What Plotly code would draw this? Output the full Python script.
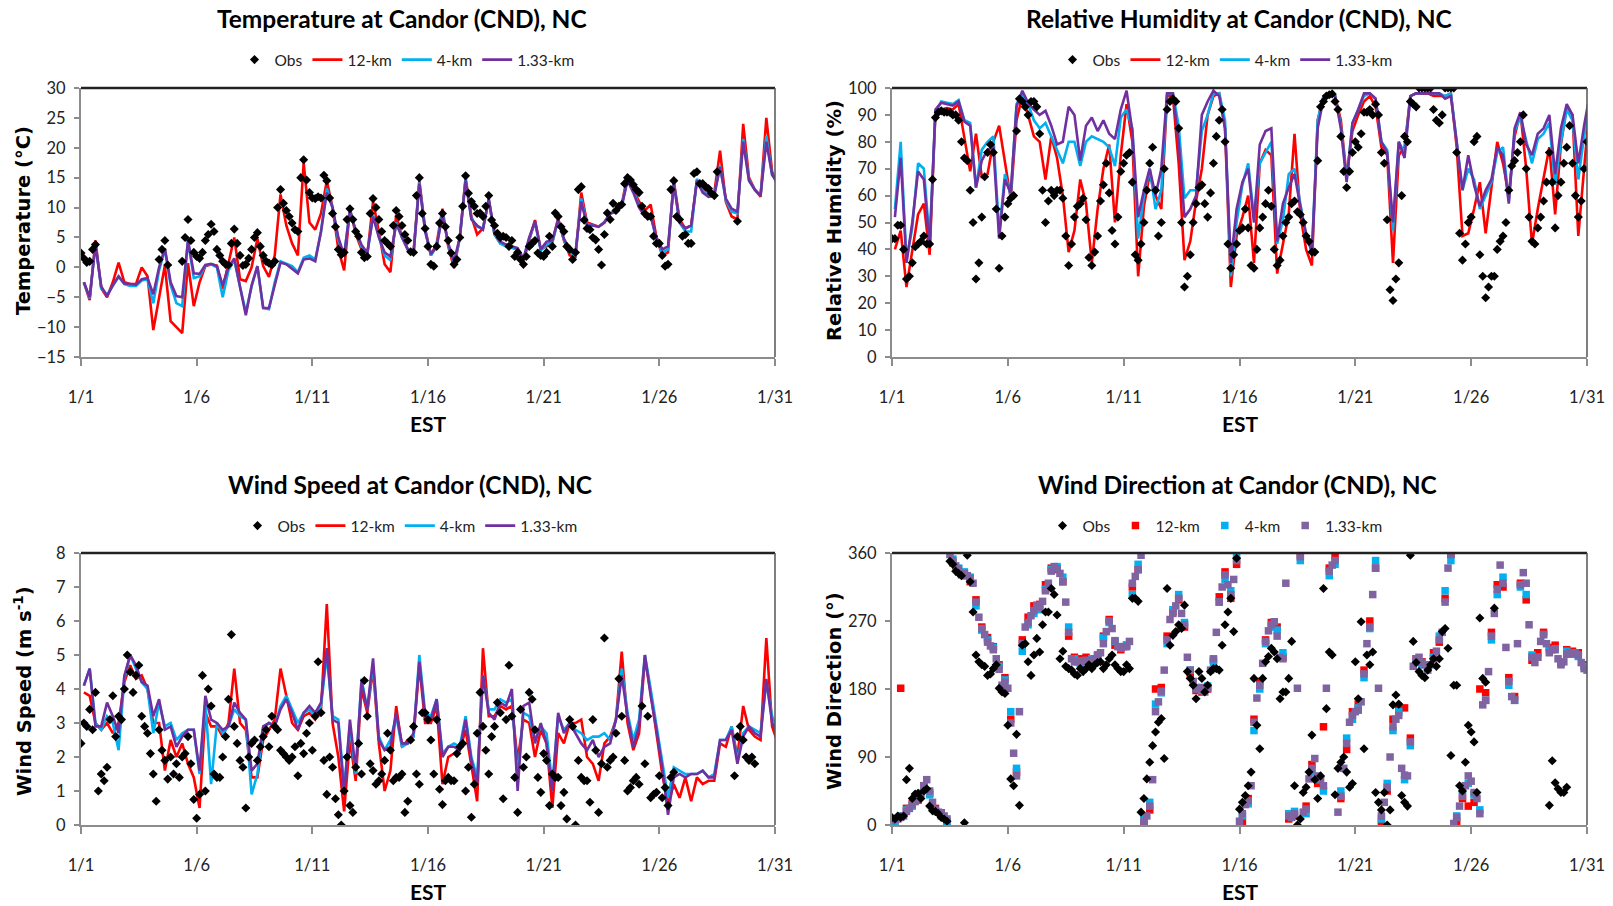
import plotly.graph_objects as go

W, H = 1613, 906

# ---------------------------------------------------------------------------
# Time axes (days after 1 Jan 00 EST)
# 6-hourly series sit at 03, 09, 15, 21 EST; 3-hourly series start at 00 EST
# ---------------------------------------------------------------------------
t6 = [0.125 + 0.25 * k for k in range(121)]
t3 = [0.125 * k for k in range(241)]

tick_days = [0, 5, 10, 15, 20, 25, 30]
tick_labels = ["1/1", "1/6", "1/11", "1/16", "1/21", "1/26", "1/31"]

# ---------------------------------------------------------------------------
# Temperature (deg C): models 6-hourly, obs 3-hourly
# ---------------------------------------------------------------------------
temp_12km = [
    -2.5, -5.5, 4.5, -3.5, -5.0, -2.5, 0.8, -2.5, -2.8, -2.8, 0.0, -1.5,
    -10.5, -5.0, 0.3, -9.0, -10.0, -11.0, 0.7, -6.5,
    -2.5, 0.2, 0.5, 0.3, -3.6, 0.5, 5.0, -2.0, -2.3, 0.0, 4.8, 0.2,
    -1.6, 2.0, 12.2, 7.0, 4.0, 2.0, 17.5, 7.5,
    6.3, 9.0, 14.5, 10.0, 3.0, -0.5, 9.8, 5.6, 3.0, 2.0, 11.0, 6.0,
    0.5, -0.8, 8.8, 5.0, 3.0, 2.5, 14.5, 6.5,
    2.0, 4.0, 9.8, 3.5, -0.1, 5.0, 15.0, 8.5, 5.5, 6.5, 11.2, 5.5,
    4.0, 3.8, 3.5, 2.8, 1.0, 4.5, 7.9, 3.0,
    3.5, 4.2, 8.2, 4.5, 2.0, 1.8, 12.5, 7.5, 7.2, 6.8, 7.5, 9.0,
    9.5, 10.5, 15.5, 13.0, 11.0, 9.5, 10.5, 5.0,
    2.0, 2.5, 14.5, 8.0, 6.5, 7.0, 14.5, 13.2, 12.5, 12.5, 19.5, 11.0,
    8.5, 8.0, 24.0, 15.0, 13.0, 11.8, 25.0, 16.0,
    13.5,
]
temp_4km = [
    -2.5, -5.2, 4.0, -3.5, -4.6, -3.0, -1.6, -2.8, -3.1, -3.1, -2.2, -2.0,
    -6.0, -0.5, 3.0, -3.0, -6.0, -6.5, 4.5, -1.8,
    -1.5, 0.3, 0.5, 0.0, -5.0, -0.5, 1.3, -3.3, -7.5, -3.2, 0.2, -6.8,
    -7.0, -2.5, 1.0, 0.6, 0.2, -0.8, 1.6, 2.0,
    1.3, 6.0, 13.2, 10.0, 4.5, 2.0, 9.7, 6.0, 3.5, 2.3, 8.7, 5.2,
    2.0, 1.2, 7.5, 5.0, 3.0, 2.3, 14.2, 6.3,
    2.0, 3.5, 9.2, 3.8, 0.5, 4.8, 14.7, 8.2, 6.8, 6.5, 11.3, 5.5,
    4.0, 3.5, 3.3, 3.0, 1.2, 4.8, 7.5, 2.8,
    3.8, 4.2, 7.8, 4.6, 2.5, 2.0, 11.5, 7.2, 7.0, 6.8, 7.6, 9.0,
    9.5, 10.4, 14.8, 12.8, 10.3, 8.8, 8.8, 4.5,
    2.5, 3.0, 14.2, 7.5, 6.0, 6.0, 14.8, 12.8, 12.0, 12.2, 17.0, 11.2,
    9.3, 9.0, 21.5, 14.7, 13.0, 12.0, 22.0, 15.5,
    14.0,
]
temp_133km = [
    -2.5, -5.0, 3.8, -3.2, -4.8, -3.0, -1.5, -2.7, -2.8, -2.9, -2.0, -1.8,
    -4.5, 0.0, 3.2, -2.5, -4.8, -5.0, 4.5, -1.0,
    -1.1, 0.4, 0.6, 0.2, -3.0, 0.0, 1.5, -3.0, -8.0, -3.0, 0.2, -6.8,
    -6.8, -3.0, 0.8, 0.5, -0.3, -1.0, 1.3, 1.5,
    1.0, 6.0, 12.5, 10.0, 5.0, 2.0, 9.5, 6.2, 3.8, 2.4, 8.5, 5.0,
    2.5, 1.8, 7.3, 5.0, 3.0, 2.3, 14.0, 6.0,
    2.2, 3.5, 8.8, 4.0, 1.0, 5.0, 14.5, 8.0, 7.0, 6.3, 11.5, 5.8,
    4.3, 3.8, 3.5, 3.2, 1.5, 5.0, 7.7, 3.0,
    4.3, 4.5, 8.0, 4.8, 3.0, 2.5, 11.0, 7.0, 7.0, 6.8, 7.5, 9.0,
    9.3, 10.2, 14.5, 12.5, 10.0, 8.5, 8.5, 5.0,
    3.0, 3.5, 14.0, 7.5, 6.5, 7.0, 14.5, 12.5, 11.8, 12.0, 16.8, 11.5,
    9.8, 9.3, 21.0, 14.5, 13.0, 12.0, 21.0, 15.5,
    14.0,
]
temp_obs = [
    2.4, 1.5, 0.8, 1.0, 3.0, 3.8, None, None,
    None, None, None, None, None, None, None, None,
    None, None, None, None, None, None, None, None,
    None, None, None, 1.3, 3.0, 4.5, 0.4, None,
    None, None, None, 1.0, 5.0, 8.0, 4.5, 2.5,
    1.8, 1.5, 2.5, 4.5, 5.5, 7.2, 6.0, 3.0,
    2.0, 1.0, 0.5, 0.4, 4.0, 6.4, 4.0, 2.0,
    0.3, 0.5, 1.5, 3.0, 5.0, 5.8, 3.5, 2.0,
    1.0, 0.7, 0.4, 1.0, 10.0, 13.0, 10.7, 9.5,
    8.5, 7.4, 6.3, 6.0, 15.0, 18.0, 14.6, 12.5,
    11.6, 11.5, 11.8, 11.6, 15.4, 14.5, 11.6, 9.0,
    6.8, 3.0, 2.1, 2.5, 8.0, 9.8, 8.0, 6.0,
    5.2, 2.5, 1.6, 1.8, 9.0, 11.5, 10.0, 8.0,
    6.0, 4.5, 4.0, 3.5, 7.0, 9.5, 8.5, 7.0,
    5.5, 4.5, 2.6, 2.5, 12.0, 15.0, 9.0, 6.5,
    3.5, 0.5, 0.2, 3.5, 7.4, 9.0, 6.8, 4.5,
    2.4, 0.5, 1.3, 5.0, 10.2, 15.3, 12.4, 11.0,
    10.2, 9.0, 9.1, 8.5, 10.2, 12.0, 7.9, 7.0,
    5.7, 5.0, 5.2, 5.0, 3.5, 4.5, 1.8, 2.5,
    1.3, 0.5, 1.8, 3.5, 4.0, 4.5, 2.4, 2.0,
    1.8, 2.5, 5.2, 3.5, 9.1, 8.5, 6.8, 6.0,
    3.5, 3.0, 1.3, 2.5, 13.0, 13.5, 7.9, 6.5,
    6.3, 5.0, 4.6, 3.0, 0.4, 5.5, 9.1, 8.0,
    10.7, 9.5, 10.2, 10.5, 14.0, 15.0, 14.6, 13.8,
    13.0, 12.5, 10.2, 9.0, 8.5, 8.5, 5.2, 4.0,
    4.0, 2.0, 0.2, 0.5, 13.0, 14.5, 8.5, 8.0,
    5.2, 5.5, 4.0, 4.0, 15.7, 16.0, 14.0, 14.0,
    13.5, 13.2, 12.4, 12.0, 16.0, None, None, None,
    None, None, None, 7.7, None, None, None, None,
    None, None, None, None, None, None, None, None,
    None,
]

# ---------------------------------------------------------------------------
# Relative humidity (%): models 6-hourly, obs 3-hourly
# ---------------------------------------------------------------------------
rh_12km = [
    40, 47, 26, 40, 53, 57, 38, 91, 92, 92.5, 92, 94, 81, 69, 83, 67, 68, 80, 86, 72,
    59, 88, 97, 90, 82, 80, 66, 82, 74, 60, 39, 47, 66, 57, 35, 55, 70, 79, 50, 75,
    94, 80, 30, 56, 68, 60, 55, 97, 97, 72, 36, 43, 58, 70, 90, 97, 98, 85, 26, 45,
    52, 60, 35, 72, 77, 75, 31, 42, 53, 83, 53, 40, 34, 88, 97, 98, 97, 88, 67, 84,
    90, 95, 97, 93, 78, 75, 35, 75, 78, 97, 98, 98, 98, 97, 97, 97, 98, 78, 45, 46,
    55, 65, 46, 63, 80, 72, 60, 82, 91, 70, 42, 55, 66, 78, 53, 79, 93, 90, 45, 70,
    95,
]
rh_4km = [
    55, 80, 36, 48, 72, 70, 43, 91, 95, 94.5, 94, 95.5, 88, 87, 63, 77, 80, 82, 46, 68,
    60, 94, 98, 94, 88, 85, 87, 82, 77, 72, 80, 80, 71, 80, 82, 81, 80, 78, 71, 89,
    92, 85, 44, 60, 70, 55, 62, 98, 98, 86, 59, 62, 62, 84, 90, 98, 98, 88, 30, 50,
    64, 72, 52, 72, 76, 80, 42, 51, 68, 70, 57, 45, 39, 88, 97, 98, 97.5, 86, 66, 87,
    92, 97, 98, 96, 80, 77, 47, 80, 76, 97, 98, 98, 98.5, 98, 98, 97, 98, 80, 62, 70,
    66, 55, 60, 65, 76, 78, 58, 84, 89, 80, 72, 81, 83, 87, 64, 80, 92, 88, 66, 82,
    95,
]
rh_133km = [
    52, 74, 35, 50, 69, 66, 41, 92, 94.5, 94, 93.5, 95, 87.5, 86, 63, 73, 77, 78, 44, 66,
    61, 93, 99, 94.5, 92, 90, 91.5, 86, 79, 80, 93, 90, 73, 86, 89, 84, 88, 83, 81, 92,
    99, 84, 52, 62, 70, 60, 70, 98, 98, 80, 52, 55, 60, 90, 95, 99, 97, 85, 35, 55,
    65, 70, 50, 79, 84, 85, 43, 57, 63, 68, 56, 46, 39, 85, 96, 98, 97, 85, 65, 87,
    92, 98, 98, 96, 80, 76, 50, 80, 74, 97, 98, 98, 98, 98, 98, 96, 97, 80, 62, 75,
    64, 56, 62, 66, 78, 75, 57, 85, 91, 79, 75, 83, 85, 90, 68, 85, 94, 90, 72, 86,
    98,
]
rh_obs = [
    44, 44, 49, 49, 40, 29, 30, 35,
    41, 42, 43, 45, 42, 42, 66, 89,
    91, 91.5, 91, 91, 91, 90, 90, 88,
    80, 74, 73, 62, 50, 29, 35, 52,
    67, 76, 79, 76, 55, 33, 45, 52,
    57, 59, 60, 84, 96, 95, 93, 90,
    95, 95, 93, 83, 62, 50, 58, 62,
    60, 62, 62, 59, 45, 34, 42, 52,
    56, 57, 59, 51, 37, 34, 39, 45,
    58, 64, 72, 61, 47, 42, 52, 69,
    72, 75, 76, 65, 38, 36, 42, 50,
    62, 72, 78, 62, 45, 50, 70, 92,
    95, 96, 95, 85, 50, 26, 30, 38,
    50, 57, 63, 64, 57, 52, 61, 72,
    82, 88, 92, 80, 42, 33, 38, 42,
    47, 48, 55, 48, 34, 33, 40, 48,
    52, 57, 62, 56, 40, 34, 36, 45,
    50, 52, 57, 58, 54, 53, 50, 45,
    43, 39, 39, 73, 93, 95, 97, 97.5,
    97.8, 95, 92, 82, 69, 63, 69, 76,
    80, 78, 83, 91, 91, 92, 90, 94,
    90, 76, 72, 51, 25, 21, 29, 35,
    60, 82, 80, 95, 94, 93, 100, 100,
    100, 100, 100, 92, 88, 87, 90, 100,
    100, 100, 100, 76, 46, 36, 42, 50,
    52, 80, 82, 38, 30, 22, 26, 30,
    30, 40, 43, 45, 50, 62, 71, 73,
    76, 80, 90, 70, 52, 43, 42, 48,
    52, 58, 65, 76, 65, 48, 60, 65,
    72, 78, 86, 72, 60, 52, 58, 70,
    80,
]

# ---------------------------------------------------------------------------
# Wind speed (m/s): models 6-hourly, obs 3-hourly
# ---------------------------------------------------------------------------
ws_12km = [
    3.9, 3.8, 3.0, 2.8, 3.0, 2.7, 3.0, 4.2, 4.7, 4.3, 4.4, 4.0, 3.0, 3.0, 1.6, 2.5,
    2.0, 2.4, 1.8, 1.4, 0.5, 3.3, 2.9, 2.9, 2.6, 3.0, 4.6, 3.0, 2.8, 1.4, 1.4, 2.5,
    2.8, 3.1, 4.6, 3.8, 3.0, 2.8, 3.2, 3.3, 3.1, 3.4, 6.5, 3.0, 2.0, 0.4, 2.5, 1.3,
    4.0, 3.3, 4.6, 2.4, 1.0, 1.6, 3.5, 2.3, 2.5, 2.6, 4.7, 3.0, 3.0, 3.5, 1.2, 2.0,
    2.1, 2.2, 2.8, 1.8, 0.7, 5.2, 3.2, 3.2, 3.5, 3.4, 3.5, 1.9, 3.1, 3.0, 2.0, 2.8,
    2.4, 0.5, 2.7, 2.4, 3.0, 3.0, 3.1, 2.0, 1.8, 1.3, 2.4, 2.6, 3.1, 5.1, 3.0, 2.2,
    2.7, 4.9, 3.9, 2.7, 1.5, 0.6, 1.2, 0.8, 1.4, 0.7, 1.4, 1.2, 1.3, 1.3, 2.4, 2.3,
    2.9, 2.0, 3.5, 2.8, 2.6, 2.5, 5.5, 2.9, 2.4,
]
ws_4km = [
    4.1, 4.6, 3.0, 2.8, 3.2, 3.0, 2.2, 4.3, 5.0, 4.6, 4.2, 4.0, 2.7, 3.6, 2.9, 3.0,
    2.5, 2.7, 2.8, 2.8, 1.5, 3.6, 1.2, 3.0, 2.7, 2.9, 3.4, 3.2, 3.1, 0.9, 1.5, 2.8,
    3.0, 2.9, 3.5, 3.8, 3.4, 3.0, 3.3, 3.4, 3.2, 3.5, 5.0, 3.2, 3.1, 1.1, 2.9, 1.5,
    4.3, 3.4, 4.7, 2.6, 2.2, 2.5, 3.2, 2.3, 2.4, 2.6, 5.0, 3.3, 3.2, 3.7, 2.1, 2.3,
    2.4, 2.3, 3.2, 2.0, 1.4, 4.4, 3.4, 3.4, 3.7, 3.6, 3.7, 1.4, 3.3, 3.2, 2.5, 2.9,
    2.7, 1.2, 3.2, 2.8, 3.0, 2.8, 2.7, 2.5, 2.6, 2.6, 2.7, 2.5, 3.1, 4.6, 3.3, 2.5,
    3.1, 5.0, 4.0, 2.9, 1.8, 0.8, 1.7, 1.6, 1.5, 1.5, 1.5, 1.6, 1.4, 1.5, 2.5, 2.5,
    2.9, 1.9, 2.7, 2.9, 2.8, 2.7, 4.2, 3.2, 2.8,
]
ws_133km = [
    4.1, 4.6, 2.9, 2.9, 3.6, 3.2, 2.7, 4.4, 5.0, 4.7, 4.2, 4.1, 3.2, 3.7, 2.8, 2.9,
    2.3, 2.6, 2.8, 2.8, 1.6, 3.8, 3.1, 3.0, 2.8, 2.9, 3.6, 3.3, 3.1, 1.6, 1.8, 2.9,
    3.0, 2.9, 3.4, 3.7, 3.3, 2.8, 3.3, 3.5, 3.3, 3.6, 5.2, 3.1, 3.0, 0.9, 3.1, 1.6,
    4.2, 3.4, 4.9, 2.5, 2.2, 2.3, 3.3, 2.4, 2.4, 2.7, 4.8, 3.2, 3.1, 3.7, 2.0, 2.3,
    2.3, 2.2, 3.1, 1.9, 1.2, 4.4, 3.3, 3.1, 3.6, 3.5, 4.0, 1.0, 3.5, 3.6, 2.4, 3.0,
    2.4, 1.0, 3.3, 2.7, 3.0, 2.7, 2.4, 2.2, 2.5, 2.0, 2.3, 2.4, 3.1, 4.4, 3.2, 2.3,
    2.9, 5.0, 3.8, 2.8, 1.7, 0.3, 1.4, 1.5, 1.4, 1.5, 1.5, 1.6, 1.4, 1.4, 2.5, 2.5,
    2.8, 1.8, 2.6, 2.9, 2.7, 2.6, 4.3, 3.0, 2.7,
]
ws_obs = [
    2.4, 3.0, 2.9, 3.4, 2.8, 3.9, 1.0, 1.5, 1.3, 1.7, 3.1, 3.8, 2.6, 3.2, 3.1, 4.0,
    5.0, 4.5, 3.9, 4.4, 4.7, 3.2, 2.9, 2.7, 2.1, 1.5, 0.7, 2.8, 2.2, 1.9, 1.35, 2.0,
    1.5, 1.8, 1.4, 2.0, 2.1, 2.6, 1.8, 0.75, 0.2, 0.9, 4.4, 1.0, 4.0, 3.5, 1.5, 1.4,
    1.4, 2.0, 2.6, 3.7, 5.6, 2.9, 2.4, 1.9, 1.7, 0.5, 2.0, 2.4, 2.5, 1.9, 2.3, 2.6,
    2.8, 2.3, 3.2, 2.9, 2.8, 2.2, 2.1, 2.0, 1.9, 2.0, 2.3, 1.45, 2.4, 2.1, 2.7, 3.0,
    2.2, 3.2, 4.8, 3.3, 1.9, 0.9, 2.0, 1.7, 0.77, 0.3, 0.0, 1.0, 2.0, 0.57, 0.37, 1.7,
    2.4, 1.5, 4.25, 3.2, 1.8, 1.6, 1.2, 1.3, 1.5, 1.9, 2.7, 2.2, 1.3, 1.4, 1.4, 1.5,
    0.37, 0.7, 2.5, 2.9, 1.5, 1.2, 3.3, 3.3, 3.1, 2.5, 1.5, 3.1, 1.05, 0.6, 1.3, 1.4,
    1.3, 1.3, 2.1, 2.3, 2.4, 1.0, 1.7, 0.23, 1.2, 2.7, 3.9, 2.9, 2.2, 1.5, 2.6, 2.9,
    3.6, 3.3, 0.77, 3.1, 4.7, 3.2, 1.4, 0.37, 3.4, 1.7, 2.0, 3.9, 3.7, 2.8, 1.4, 0.96,
    2.1, 1.9, 0.57, 1.5, 1.4, 1.4, 0.57, 0.96, 0.18, 3.1, 2.9, 0.0, 1.9, 1.4, 1.3, 1.3,
    0.67, 3.1, 2.2, 0.37, 1.8, 5.5, 1.7, 1.9, 2.0, 2.7, 4.3, 3.2, 1.9, 1.0, 1.1, 1.3,
    1.4, 1.2, 3.5, 1.8, 3.2, 0.8, 0.9, 0.96, 1.45, 0.8, 1.1, 0.57, 1.4, 1.55, None, None,
    None, None, None, None, None, None, None, None,
    None, None, None, None, None, None, None, None,
    None, None, 1.45, 2.6, 2.9, 2.5, 2.0, 1.9, 2.0, 1.8, None, None, None, None, None, None,
    None,
]

# ---------------------------------------------------------------------------
# Wind direction (deg): 12-km / 4-km 6-hourly, 1.33-km and obs 3-hourly
# ---------------------------------------------------------------------------
wd_12km = [
    3, 181, 22, 28, 33, 52, 42, 22, 16, 3, 347, 335, 330, 322, 298, 262,
    248, 236, 212, 195, 140, 70, 245, 275, 290, 292, 318, 340, 338, 322, 250, 222,
    220, 222, 216, 224, 250, 272, 238, 232, 238, 315, 338, 3, 20, 180, 182, 250,
    282, 298, 262, 198, 178, 176, 180, 218, 302, 335, 300, 345, 5, 35, 140, 190,
    245, 268, 262, 222, 8, 12, 358, 25, 80, 55, 130, 340, 355, 35, 100, 150,
    160, 205, 270, 340, 2, 45, 140, 155, 155, 115, 220, 216, 208, 228, 242, 300,
    358, 5, 35, 25, 30, 180, 175, 255, 318, 315, 195, 170, 320, 298, 218, 228,
    255, 235, 238, 215, 232, 230, 228, 212, 210,
]
wd_4km = [
    5, 12, 20, 25, 38, 48, 40, 18, 12, 5, 352, 340, 335, 328, 290, 258,
    245, 235, 210, 192, 150, 75, 230, 265, 280, 285, 312, 338, 342, 328, 262, 220,
    214, 217, 220, 225, 248, 268, 243, 236, 238, 305, 345, 8, 30, 160, 175, 240,
    285, 305, 268, 205, 182, 178, 184, 215, 295, 325, 310, 355, 12, 28, 125, 180,
    240, 262, 258, 228, 15, 18, 350, 15, 70, 60, 45, 330, 345, 45, 115, 140,
    155, 195, 260, 350, 8, 55, 125, 150, 60, 105, 215, 212, 212, 222, 250, 310,
    350, 12, 45, 55, 40, 20, 165, 245, 305, 328, 185, 165, 315, 305, 225, 222,
    252, 232, 233, 214, 230, 226, 223, 210, 207,
]
wd_133km = [
    6, 8, 8, 10, 12, 18, 22, 27, 31, 35, 42, 52, 60, 45, 30, 20,
    17, 15, 12, 8, 358, 350, 343, 339, 331, 333, 330, 326, 320, 295, 275, 260,
    252, 242, 237, 232, 220, 206, 185, 189, 181, 135, 95, 65, 150, 240, 262, 268,
    277, 284, 291, 288, 296, 310, 320, 336, 342, 339, 333, 322, 295, 255, 220, 216,
    216, 217, 217, 218, 217, 218, 220, 225, 228, 240, 256, 270, 260, 244, 236, 234,
    236, 236, 243, 320, 329, 338, 357, 5, 12, 25, 60, 150, 163, 177, 205, 245,
    272, 280, 290, 300, 280, 265, 222, 205, 190, 180, 180, 182, 176, 181, 205, 220,
    255, 295, 315, 331, 318, 305, 325, 350, 5, 15, 27, 32, 52, 136, 168, 185,
    214, 243, 257, 265, 269, 250, 222, 220, 320, 12, 10, 15, 181, 355, 17, 21,
    61, 75, 88, 65, 60, 52, 181, 336, 344, 350, 17, 38, 75, 108, 136, 145,
    150, 152, 163, 200, 240, 262, 305, 340, 181, 12, 30, 50, 90, 130, 140, 145,
    75, 66, 65, 110, 210, 220, 222, 215, 212, 205, 212, 220, 230, 245, 255, 295,
    340, 358, 2, 10, 25, 38, 52, 65, 58, 43, 35, 15, 159, 165, 203, 250,
    280, 312, 344, 320, 235, 190, 170, 165, 240, 318, 334, 320, 265, 222, 215, 222,
    243, 252, 240, 228, 232, 232, 220, 212, 216, 226, 228, 227, 228, 225, 215, 207,
    205,
]
wd_obs = [
    10, 8, 12, 10, 12, 60, 75, 35, 41, 42, 35, 45, 48, 25, 19, 18,
    15, 10, 8, 5, 349, 345, 336, 333, 330, 3, 357, 322, 282, 225, 216, 212,
    210, 198, 200, 207, 212, 181, 176, 174, 132, 61, 52, 120, 26, 238, 240, 216,
    198, 225, 247, 229, 265, 282, 282, 313, 305, 278, 220, 230, 210, 207, 205, 200,
    198, 207, 203, 207, 212, 207, 212, 215, 216, 207, 212, 220, 225, 212, 207, 203,
    203, 212, 207, 300, 300, 296, 17, 35, 61, 83, 105, 123, 136, 141, 88, 313,
    238, 251, 256, 265, 260, 291, 203, 194, 185, 167, 203, 194, 176, 185, 203, 207,
    207, 205, 238, 265, 282, 300, 256, 353, 21, 30, 39, 52, 70, 194, 132, 101,
    194, 216, 223, 234, 229, 220, 167, 176, 176, 194, 243, 52, 0, 8, 43, 50,
    70, 119, 60, 35, 65, 313, 154, 229, 225, 40, 75, 83, 90, 70, 50, 55,
    216, 167, 269, 101, 225, 212, 229, 43, 30, 20, 43, 0, 20, 159, 172, 160,
    39, 30, 25, 357, 243, 215, 203, 198, 195, 205, 212, 220, 210, 220, 256, 260,
    234, 92, 185, 185, 52, 45, 83, 132, 123, 110, 43, 274, 194, 189, None, None,
    287, None, None, None, None, None, None, None,
    None, None, None, None, None, None, None, None,
    None, None, None, 26, 85, 56, 48, 43, 43, 50, None, None, None, None, None, None,
    None,
]

for name, arr, n in [
    ("temp_12km", temp_12km, 121), ("temp_4km", temp_4km, 121),
    ("temp_133km", temp_133km, 121), ("temp_obs", temp_obs, 241),
    ("rh_12km", rh_12km, 121), ("rh_4km", rh_4km, 121),
    ("rh_133km", rh_133km, 121), ("rh_obs", rh_obs, 241),
    ("ws_12km", ws_12km, 121), ("ws_4km", ws_4km, 121),
    ("ws_133km", ws_133km, 121), ("ws_obs", ws_obs, 241),
    ("wd_12km", wd_12km, 121), ("wd_4km", wd_4km, 121),
    ("wd_133km", wd_133km, 241), ("wd_obs", wd_obs, 241),
]:
    assert len(arr) == n, (name, len(arr))

# ---------------------------------------------------------------------------
# Styling
# ---------------------------------------------------------------------------
RED = "#FF0000"
CYAN = "#00B0F0"
PURPLE = "#7030A0"
PURPLE_SQ = "#8064A2"
NARROW = "Lato, Roboto, Liberation Sans, sans-serif"
WIDE_BOLD = "DejaVu Sans, Verdana, sans-serif"

XDOM_L = [81 / W, 775 / W]
XDOM_R = [892 / W, 1587 / W]
YDOM_T = [1 - 357 / H, 1 - 88 / H]
YDOM_B = [1 - 825 / H, 1 - 553 / H]

fig = go.Figure()

panels = [
    # (axis suffix, legend id, xdomain, ydomain)
    ("", "legend", XDOM_L, YDOM_T),
    ("2", "legend2", XDOM_R, YDOM_T),
    ("3", "legend3", XDOM_L, YDOM_B),
    ("4", "legend4", XDOM_R, YDOM_B),
]

line_sets = [
    (temp_12km, temp_4km, temp_133km, temp_obs),
    (rh_12km, rh_4km, rh_133km, rh_obs),
    (ws_12km, ws_4km, ws_133km, ws_obs),
]

for i, (r12, r4, r133, obs) in enumerate(line_sets):
    sfx, leg, _, _ = panels[i]
    xa, ya = "x" + sfx, "y" + sfx
    for name, vals, col, rank in [("12-km", r12, RED, 2), ("4-km", r4, CYAN, 3),
                                  ("1.33-km", r133, PURPLE, 4)]:
        fig.add_trace(go.Scatter(
            x=t6, y=vals, mode="lines", name=name, legend=leg, legendrank=rank,
            line=dict(color=col, width=2.6), xaxis=xa, yaxis=ya,
            connectgaps=False))
    fig.add_trace(go.Scatter(
        x=t3, y=obs, mode="markers", name="Obs", legend=leg, legendrank=1,
        marker=dict(symbol="diamond", size=7, color="black"),
        xaxis=xa, yaxis=ya))

# wind direction drawn as point markers
for name, tt, vals, col, rank in [("12-km", t6, wd_12km, RED, 2),
                                  ("4-km", t6, wd_4km, CYAN, 3),
                                  ("1.33-km", t3, wd_133km, PURPLE_SQ, 4)]:
    fig.add_trace(go.Scatter(
        x=tt, y=vals, mode="markers", name=name, legend="legend4", legendrank=rank,
        marker=dict(symbol="square", size=7.5, color=col),
        xaxis="x4", yaxis="y4"))
fig.add_trace(go.Scatter(
    x=t3, y=wd_obs, mode="markers", name="Obs", legend="legend4", legendrank=1,
    marker=dict(symbol="diamond", size=7, color="black"),
    xaxis="x4", yaxis="y4"))

yspecs = [
    dict(range=[-15, 30], tickvals=list(range(-15, 31, 5))),
    dict(range=[0, 100], tickvals=list(range(0, 101, 10))),
    dict(range=[0, 8], tickvals=list(range(0, 9))),
    dict(range=[0, 360], tickvals=[0, 90, 180, 270, 360]),
]

layout = dict(
    width=W, height=H,
    margin=dict(l=0, r=0, t=0, b=0, pad=0, autoexpand=False),
    paper_bgcolor="white", plot_bgcolor="white", showlegend=True,
    font=dict(family=NARROW, size=16, color="#222"),
)

for i, (sfx, leg, xd, yd) in enumerate(panels):
    layout["xaxis" + sfx] = dict(
        domain=xd, anchor="y" + sfx, range=[0, 30], tickmode="array",
        tickvals=tick_days, ticktext=tick_labels, showgrid=False, zeroline=False,
        showline=True, linecolor="#8c8c8c", linewidth=2, ticks="outside",
        ticklen=7, tickwidth=1.5, tickcolor="#8c8c8c", ticklabelstandoff=17,
        tickfont=dict(family=NARROW, size=16.5, color="#222"), fixedrange=True,
        automargin=False)
    layout["yaxis" + sfx] = dict(
        domain=yd, anchor="x" + sfx, tickmode="array", showgrid=False,
        zeroline=False, showline=True, linecolor="#8c8c8c", linewidth=2,
        ticks="outside", ticklen=5, tickwidth=1.5, tickcolor="#8c8c8c",
        ticklabelstandoff=5, tickfont=dict(family=NARROW, size=16.5, color="#222"),
        fixedrange=True, automargin=False, **yspecs[i])

legend_pos = [(407, 60), (1225, 60), (410, 526), (1215, 526)]
for (sfx, leg, _, _), (lx, ly) in zip(panels, legend_pos):
    layout[leg] = dict(
        orientation="h", x=lx / W, y=1 - ly / H, xanchor="center", yanchor="middle",
        font=dict(family=NARROW, size=15.5, color="#222"), bgcolor="rgba(0,0,0,0)",
        itemwidth=30, tracegroupgap=0, itemclick=False, itemdoubleclick=False)

fig.update_layout(**layout)

# plot frame: dark top edge and right edge
shapes = []
for sfx, _, _, _ in panels:
    xr = ("x" + sfx) + " domain"
    yr = ("y" + sfx) + " domain"
    shapes.append(dict(type="line", xref=xr, yref=yr, x0=0, x1=1, y0=1, y1=1,
                       line=dict(color="#222", width=2.5)))
    shapes.append(dict(type="line", xref=xr, yref=yr, x0=1, x1=1, y0=0, y1=1,
                       line=dict(color="#555", width=1.5)))
fig.update_layout(shapes=shapes)

titles = [
    ("Temperature at Candor (CND), NC", 402, 19),
    ("Relative Humidity at Candor (CND), NC", 1239, 19),
    ("Wind Speed at Candor (CND), NC", 410, 485),
    ("Wind Direction at Candor (CND), NC", 1237, 485),
]
ytitles = [
    ("Temperature (°C)", 23, 221),
    ("Relative Humidity (%)", 834, 221),
    ("Wind Speed (m s<sup>-1</sup>)", 23, 691),
    ("Wind Direction (°)", 834, 691),
]
xtitles = [(428, 424), (1240, 424), (428, 891), (1240, 891)]

ann = []
for text, x, y in titles:
    ann.append(dict(text="<b>" + text + "</b>", x=x / W, y=1 - y / H, xref="paper",
                    yref="paper", xanchor="center", yanchor="middle", showarrow=False,
                    font=dict(family=NARROW, size=24.5, color="black")))
for text, x, y in ytitles:
    ann.append(dict(text="<b>" + text + "</b>", x=x / W, y=1 - y / H, xref="paper",
                    yref="paper", xanchor="center", yanchor="middle", showarrow=False,
                    textangle=-90, font=dict(family=WIDE_BOLD, size=19.5, color="black")))
for x, y in xtitles:
    ann.append(dict(text="<b>EST</b>", x=x / W, y=1 - y / H, xref="paper",
                    yref="paper", xanchor="center", yanchor="middle", showarrow=False,
                    font=dict(family=NARROW, size=21, color="black")))
fig.update_layout(annotations=ann)

fig.write_html("out.html", config={"displayModeBar": False})
